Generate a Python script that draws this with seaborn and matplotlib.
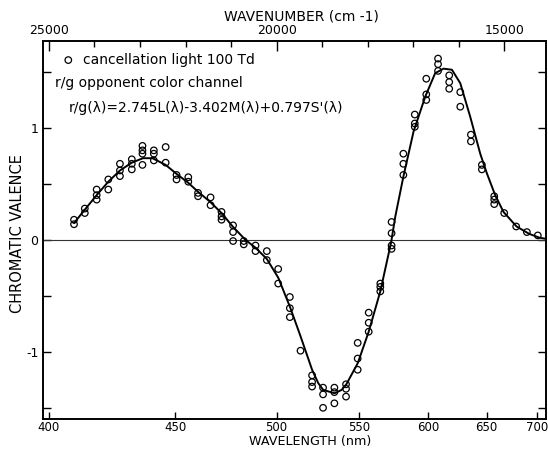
import matplotlib
matplotlib.use("Agg")
import matplotlib.pyplot as plt
import pandas as pd
import seaborn as sns
from matplotlib.ticker import FixedLocator, MultipleLocator

# ---------------- data ----------------
# measured points: wavelength (nm) -> list of chromatic valence readings
meas_wl = [409, 413, 417.5, 422, 426.6, 431.4, 435.8, 440.6, 445.7, 450.5,
           455.8, 460.3, 466.2, 471.5, 477.2, 482.6, 488.7, 494.7, 500.9, 507.4,
           513.5, 520.3, 526.9, 533.9, 541.3, 548.9, 556.3, 564.3, 572.3, 580.9,
           589.5, 598.4, 607.8, 617, 626.4, 635.7, 645.6, 657.1, 666.7, 678.6,
           689.6, 701.2]
meas_vals = [[0.18, 0.14], [0.28, 0.24], [0.45, 0.40, 0.36], [0.54, 0.45],
             [0.68, 0.62, 0.57], [0.72, 0.68, 0.63], [0.84, 0.80, 0.77, 0.67],
             [0.80, 0.77, 0.71], [0.83, 0.69], [0.58, 0.54],
             [0.56, 0.52], [0.42, 0.39], [0.38, 0.31], [0.25, 0.21, 0.18],
             [0.13, 0.07, -0.01], [-0.01, -0.04], [-0.05, -0.10], [-0.10, -0.18],
             [-0.26, -0.39], [-0.51, -0.61, -0.69],
             [-0.99], [-1.21, -1.27, -1.31], [-1.32, -1.38, -1.50],
             [-1.32, -1.36, -1.46], [-1.29, -1.33, -1.40], [-0.92, -1.06, -1.16],
             [-0.65, -0.74, -0.82], [-0.39, -0.42, -0.46], [0.16, 0.06, -0.05, -0.08],
             [0.77, 0.68, 0.58],
             [1.12, 1.04, 1.01], [1.44, 1.30, 1.25], [1.62, 1.57, 1.51],
             [1.47, 1.41, 1.35], [1.32, 1.19], [0.94, 0.88], [0.67, 0.63],
             [0.39, 0.36, 0.32], [0.24], [0.12],
             [0.07], [0.04]]

# model curve r/g(lambda)
fit_wl = [409, 413, 417.5, 422, 426.6, 431.4, 436, 440, 445.7, 450.5, 455.8,
          460.3, 466, 471.5, 477, 483.5, 488.7, 494.7, 501, 507.5, 513.5, 520.3,
          524, 527, 534, 538.5, 541.5, 549, 556.3, 564.3, 572, 575, 581, 588.6,
          597.6, 605.5, 612.3, 619.3, 626.4, 635.1, 644.1, 650, 658, 666, 679,
          692, 703, 710]
fit_val = [0.15, 0.27, 0.40, 0.52, 0.62, 0.69, 0.73, 0.73, 0.67, 0.59, 0.51,
           0.43, 0.34, 0.24, 0.12, 0.00, -0.07, -0.17, -0.34, -0.60, -0.86, -1.16,
           -1.28, -1.34, -1.37, -1.34, -1.29, -1.10, -0.82, -0.46, -0.02, 0.21,
           0.57, 0.97, 1.28, 1.49, 1.53, 1.52, 1.40, 1.10, 0.77, 0.60, 0.40, 0.25,
           0.12, 0.054, 0.02, 0.01]

wl_ticks = [400, 450, 500, 550, 600, 650, 700]
wn_major = [25000, 20000, 15000]
val_ticks = [-1, 0, 1]
val_ticklabels = ["-1", "0", "1"]

legend_label = "cancellation light 100 Td"
line2 = "r/g opponent color channel"
line3 = "r/g(λ)=2.745L(λ)-3.402M(λ)+0.797S'(λ)"

# ---------------- tables ----------------
rows = [(w, v) for w, vs in zip(meas_wl, meas_vals) for v in vs]
df_pts = pd.DataFrame(rows, columns=["wl", "val"])
df_pts["wn"] = 1e7 / df_pts["wl"]          # wavenumber axis (cm-1)
df_fit = pd.DataFrame({"wl": fit_wl, "val": fit_val})
df_fit["wn"] = 1e7 / df_fit["wl"]

# ---------------- style ----------------
sns.set_theme(style="ticks")
plt.rcParams["font.family"] = ["DejaVu Sans"]
plt.rcParams["axes.edgecolor"] = "black"
plt.rcParams["xtick.color"] = "black"
plt.rcParams["ytick.color"] = "black"
plt.rcParams["text.color"] = "black"
plt.rcParams["axes.labelcolor"] = "black"

W, H = 548, 450
fig = plt.figure(figsize=(W / 100, H / 100), dpi=100)
L, R, T, B = 42.6, 546.5, 41.0, 419.0
ax = fig.add_axes([L / W, 1 - B / H, (R - L) / W, (B - T) / H])

ax.axhline(0, color="#333333", lw=0.8, zorder=1)
sns.lineplot(data=df_fit, x="wn", y="val", color="black", lw=1.4,
             sort=False, ax=ax, zorder=3)
sns.scatterplot(data=df_pts, x="wn", y="val", marker="o", s=22,
                facecolors="none", edgecolor="black", linewidth=0.9,
                ax=ax, zorder=4)

ax.set_xlim(25140, 14070)
ax.set_ylim(-1.60, 1.777)

for sp in ax.spines.values():
    sp.set_linewidth(1.2)
    sp.set_visible(True)

ax.xaxis.set_major_locator(FixedLocator([1e7 / w for w in wl_ticks]))
ax.set_xticklabels([str(w) for w in wl_ticks])
ax.yaxis.set_major_locator(FixedLocator(val_ticks))
ax.set_yticklabels(val_ticklabels)
ax.yaxis.set_minor_locator(MultipleLocator(0.5))
ax.tick_params(axis="x", which="major", direction="in", length=5, width=1,
               labelsize=8.5, pad=1.5, top=False, bottom=True)
ax.tick_params(axis="y", which="both", direction="in", length=6, width=1,
               labelsize=9, pad=3, left=True, right=True)

ax2 = ax.twiny()
ax2.set_xlim(ax.get_xlim())
ax2.xaxis.set_major_locator(FixedLocator(wn_major))
ax2.set_xticklabels([str(v) for v in wn_major])
ax2.xaxis.set_minor_locator(MultipleLocator(1000))
ax2.tick_params(axis="x", which="major", direction="in", length=7, width=1,
                labelsize=9, pad=3)
ax2.tick_params(axis="x", which="minor", direction="in", length=4, width=1)
for sp in ax2.spines.values():
    sp.set_linewidth(1.2)

ax.set_xlabel("WAVELENGTH (nm)", fontsize=9.2)
ax.xaxis.set_label_coords(0.53, -(435.3 - B) / (B - T))
ax2.set_xlabel("WAVENUMBER (cm -1)", fontsize=10)
ax2.xaxis.set_label_coords(0.513, 1.055)
ax.set_ylabel("CHROMATIC VALENCE", fontsize=10.5)
ax.yaxis.set_label_coords(-0.035, 0.49)

h = ax.collections[-1]
ax.legend([h], [legend_label], loc="upper left", bbox_to_anchor=(0.0372, 0.969),
          frameon=False, borderaxespad=0, borderpad=0, handlelength=1.0,
          handletextpad=0.58, scatterpoints=1, fontsize=10)
ax.text((55 - L) / (R - L), (B - 83.3) / (B - T), line2, transform=ax.transAxes,
        ha="left", va="center", fontsize=10)
ax.text((68.3 - L) / (R - L), (B - 108.3) / (B - T), line3, transform=ax.transAxes,
        ha="left", va="center", fontsize=10)

fig.savefig("out.png", dpi=100)
